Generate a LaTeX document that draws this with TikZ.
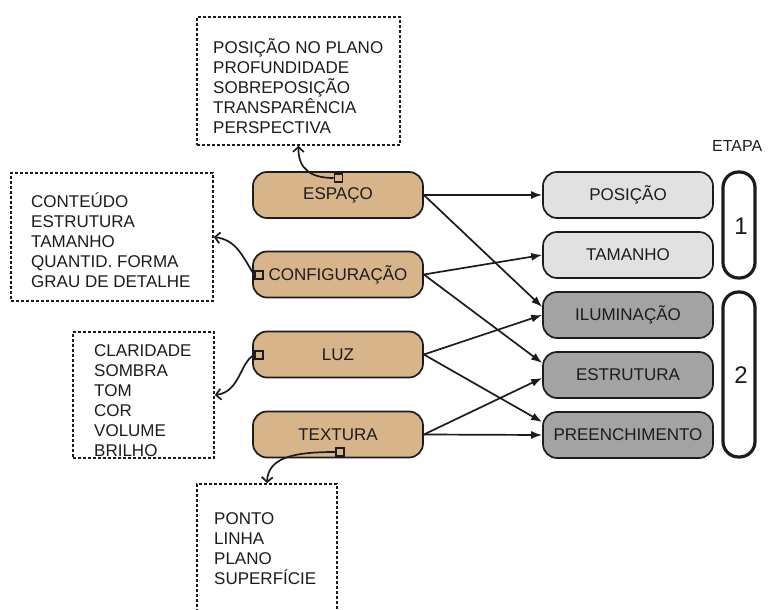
\documentclass[tikz,border=0pt]{standalone}
\usepackage{fontspec}
\setmainfont{Liberation Sans}
\usetikzlibrary{arrows.meta,calc}
\definecolor{tan}{HTML}{D8B48A}
\definecolor{lgray}{HTML}{E1E1E1}
\definecolor{dgray}{HTML}{A3A3A3}
\definecolor{ink}{HTML}{1C1C1C}
\begin{document}
\begin{tikzpicture}[x=1pt,y=-1pt,
  every node/.style={text=ink},
  catbox/.style={draw=ink, line width=1.7pt, rounded corners=14pt, minimum width=170pt, minimum height=46pt, inner sep=0pt, font=\fontsize{17}{20}\selectfont},
  leftbox/.style={catbox, fill=tan},
  stage1/.style={catbox, fill=lgray},
  stage2/.style={catbox, fill=dgray},
  dbox/.style={draw=ink, line width=1.6pt, dash pattern=on 3pt off 2pt, inner sep=0pt},
  listtext/.style={align=left, inner sep=0pt, font=\fontsize{17}{20}\selectfont},
  sq/.style={draw=ink, line width=1.6pt, minimum size=8pt, inner sep=0pt},
  caps/.style={draw=ink, line width=3.2pt, rounded corners=15.5pt, minimum width=32pt, inner sep=0pt},
  link/.style={draw=ink, line width=1.7pt, -{Latex[length=11pt,width=8pt]}},
  curl/.style={draw=ink, line width=1.7pt, -{Straight Barb[length=5pt,width=11pt]}}
]
\useasboundingbox (0,0) rectangle (769,610);
\fill[white] (0,0) rectangle (769,610);

% left category nodes
\node[leftbox] (esp) at (338,195) {ESPAÇO};
\node[leftbox] (conf) at (338,274.5) {CONFIGURAÇÃO};
\node[leftbox] (luz) at (338,354.5) {LUZ};
\node[leftbox] (textu) at (338,434.5) {TEXTURA};

% right stage nodes
\node[stage1] (pos) at (628,195) {POSIÇÃO};
\node[stage1] (tam) at (628,255) {TAMANHO};
\node[stage2] (ilu) at (628,315) {ILUMINAÇÃO};
\node[stage2] (estr) at (628,375) {ESTRUTURA};
\node[stage2] (pre) at (628,435) {PREENCHIMENTO};

% stage capsules
\node[caps, minimum height=106pt] (cap1) at (739,225) {};
\node[caps, minimum height=165pt] (cap2) at (739,374.5) {};
\node[font=\fontsize{24}{24}\selectfont, inner sep=0pt] (n1) at (741,226) {1};
\node[font=\fontsize{24}{24}\selectfont, inner sep=0pt] (n2) at (741,375) {2};
\node[font=\fontsize{16}{16}\selectfont, inner sep=0pt, anchor=west] (etapa) at (712,146) {ETAPA};

% dashed boxes
\node[dbox, minimum width=203pt, minimum height=128pt] (bEsp) at (298.5,81) {};
\node[dbox, minimum width=202pt, minimum height=128pt] (bConf) at (112,237) {};
\node[dbox, minimum width=141pt, minimum height=126pt] (bLuz) at (143.5,395) {};
\node[dbox, minimum width=140pt, minimum height=140pt] (bText) at (267,554) {};

\node[listtext, anchor=west] (tEsp) at (213,86) {POSIÇÃO NO PLANO\\PROFUNDIDADE\\SOBREPOSIÇÃO\\TRANSPARÊNCIA\\PERSPECTIVA};
\node[listtext, anchor=west] (tConf) at (31,240.5) {CONTEÚDO\\ESTRUTURA\\TAMANHO\\QUANTID. FORMA\\GRAU DE DETALHE};
\node[listtext, anchor=west] (tLuz) at (94,400.5) {CLARIDADE\\SOMBRA\\TOM\\COR\\VOLUME\\BRILHO};
\node[listtext, anchor=west] (tText) at (214,549) {PONTO\\LINHA\\PLANO\\SUPERFÍCIE};

% small squares
\node[sq] (sqE) at (338.5,178) {};
\node[sq] (sqC) at (259,275) {};
\node[sq] (sqL) at (259,355) {};
\node[sq] (sqT) at (340,452) {};

% curved arrows to dashed boxes
\draw[curl] (sqE.west) .. controls (312,178) and (298,170) .. (bEsp.south);
\draw[curl] (sqC.west) .. controls (242,255) and (236,240) .. (bConf.east);
\draw[curl] (sqL.west) .. controls (240,362) and (240,392) .. (bLuz.east);
\draw[curl] (sqT.west) .. controls (292,452) and (268,458) .. (bText.north);

% straight arrows
\draw[link] (esp.east) -- (pos.west);
\draw[link] (esp.east) -- ($(ilu.west)+(0,-8)$);
\draw[link] (conf.east) -- (tam.west);
\draw[link] (conf.east) -- ($(estr.west)+(0,-12)$);
\draw[link] (luz.east) -- (ilu.west);
\draw[link] (luz.east) -- ($(pre.west)+(0,-13)$);
\draw[link] (textu.east) -- ($(estr.west)+(0,3)$);
\draw[link] (textu.east) -- (pre.west);
\end{tikzpicture}
\end{document}
